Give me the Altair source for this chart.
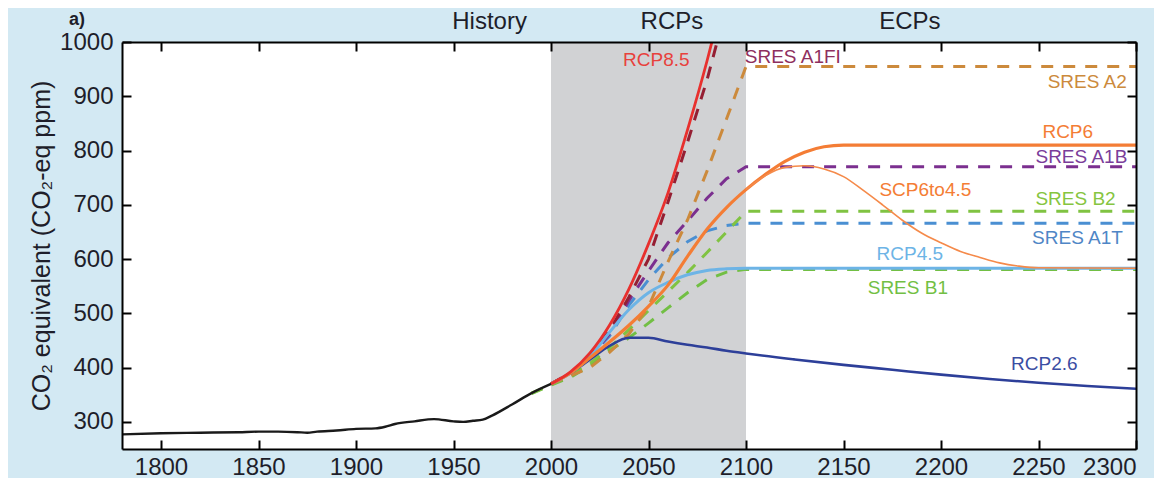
import altair as alt
import pandas as pd

FONT = "Liberation Sans"

# ---------------- data ----------------
hist_years = [1780, 1800, 1820, 1840, 1850, 1860, 1870, 1875, 1880, 1890, 1900, 1910, 1915,
              1920, 1930, 1940, 1950, 1955, 1960, 1965, 1970, 1980, 1990, 2000]
hist_ppm = [277, 279, 280, 281, 282, 282, 281, 280, 282, 284, 287, 288, 291,
            296, 301, 305, 301, 300, 302, 304, 312, 332, 353, 370]

rcp85_years = [2000, 2010, 2020, 2030, 2040, 2050, 2060, 2070, 2080, 2090]
rcp85_ppm = [370, 392, 427, 478, 545, 628, 722, 838, 965, 1110]

rcp6_years = [2000, 2010, 2020, 2030, 2040, 2050, 2060, 2070, 2080, 2090, 2100,
              2110, 2120, 2130, 2140, 2150, 2300]
rcp6_ppm = [370, 390, 418, 447, 478, 513, 552, 605, 655, 695, 728,
            756, 780, 797, 807, 810, 810]

scp_years = [2100, 2110, 2120, 2130, 2140, 2150, 2160, 2170, 2180, 2190, 2200,
             2210, 2220, 2230, 2240, 2250, 2300]
scp_ppm = [728, 754, 769, 772, 766, 752, 727, 700, 672, 648, 630,
           614, 603, 593, 587, 584, 583]

rcp45_years = [2000, 2010, 2020, 2030, 2040, 2050, 2060, 2070, 2080, 2090, 2100, 2300]
rcp45_ppm = [370, 390, 420, 465, 507, 538, 557, 571, 579, 582, 583, 583]

rcp26_years = [2000, 2010, 2020, 2030, 2040, 2050, 2060, 2070, 2080, 2090, 2100,
               2125, 2150, 2175, 2200, 2225, 2250, 2275, 2300]
rcp26_ppm = [370, 390, 415, 440, 455, 455, 448, 442, 437, 431, 426,
             415, 405, 396, 387, 379, 372, 366, 361]

a1fi_years = [2000, 2010, 2020, 2030, 2040, 2050, 2060, 2070, 2080, 2090]
a1fi_ppm = [370, 390, 420, 468, 530, 600, 705, 815, 930, 1065]

a2_years = [2000, 2010, 2020, 2030, 2040, 2050, 2060, 2070, 2080, 2090, 2100, 2300]
a2_ppm = [370, 385, 400, 428, 462, 512, 595, 672, 762, 858, 955, 955]

a1b_years = [2000, 2010, 2020, 2030, 2040, 2050, 2060, 2070, 2080, 2090, 2100, 2300]
a1b_ppm = [370, 390, 418, 462, 524, 578, 630, 670, 712, 748, 770, 770]

b2_years = [1990, 2000, 2010, 2020, 2030, 2040, 2050, 2060, 2070, 2080, 2090, 2100, 2300]
b2_ppm = [353, 368, 387, 408, 437, 470, 505, 540, 575, 612, 650, 688, 688]

a1t_years = [2000, 2010, 2020, 2030, 2040, 2050, 2060, 2070, 2080, 2090, 2100, 2300]
a1t_ppm = [370, 390, 420, 458, 515, 562, 602, 632, 652, 662, 666, 666]

b1_years = [1990, 2000, 2010, 2020, 2030, 2040, 2050, 2060, 2070, 2080, 2090, 2100, 2300]
b1_ppm = [352, 368, 382, 404, 431, 455, 482, 510, 538, 562, 576, 581, 581]

solid_names = ["RCP2.6", "RCP4.5", "RCP6", "SCP6to4.5", "RCP8.5"]
solid_colors = ["#2d3f99", "#6db4e6", "#f47d35", "#f58a4a", "#e8302e"]
solid_widths = [2.6, 3.0, 3.2, 1.6, 2.8]

dashed_names = ["SRES B1", "SRES A1T", "SRES B2", "SRES A1B", "SRES A2", "SRES A1FI"]
dashed_colors = ["#72bf44", "#4a8fd2", "#80c342", "#7b2f8f", "#cc8a3c", "#951f33"]

label_texts = ["RCP8.5", "SRES A1FI", "SRES A2", "RCP6", "SRES A1B", "SCP6to4.5",
               "SRES B2", "SRES A1T", "RCP4.5", "SRES B1", "RCP2.6"]
label_years = [2054, 2124, 2275, 2265, 2272, 2192, 2269, 2270, 2184, 2183, 2253]
label_ppm = [967, 972, 926, 834, 789, 727, 710, 638, 610, 547, 407]
label_colors = ["#e8413c", "#8e2f5e", "#cc8a3c", "#f47d35", "#7a3d9a", "#f47d35",
                "#86c540", "#4f86c6", "#6db4e6", "#72bf44", "#3b4ea3"]

header_texts = ["History", "RCPs", "ECPs"]
header_years = [1968.5, 2062, 2184]

panel_tag = ["a)"]

shade_start = [2000]
shade_end = [2100]

x_domain = [1780, 2300]
y_domain = [250, 1000]
x_ticks = [1800, 1850, 1900, 1950, 2000, 2050, 2100, 2150, 2200, 2250, 2300]
y_ticks = [300, 400, 500, 600, 700, 800, 900, 1000]

# ---------------- tables ----------------
series_data = {
    "RCP8.5": (rcp85_years, rcp85_ppm), "RCP6": (rcp6_years, rcp6_ppm),
    "SCP6to4.5": (scp_years, scp_ppm), "RCP4.5": (rcp45_years, rcp45_ppm),
    "RCP2.6": (rcp26_years, rcp26_ppm), "SRES A1FI": (a1fi_years, a1fi_ppm),
    "SRES A2": (a2_years, a2_ppm), "SRES A1B": (a1b_years, a1b_ppm),
    "SRES B2": (b2_years, b2_ppm), "SRES A1T": (a1t_years, a1t_ppm),
    "SRES B1": (b1_years, b1_ppm),
}

def long_df(names, colors, widths):
    rows = []
    for i, (n, c, w) in enumerate(zip(names, colors, widths)):
        ys, vs = series_data[n]
        for y, v in zip(ys, vs):
            rows.append({"series": n, "order": i, "year": y, "ppm": v, "color": c, "w": w})
    return pd.DataFrame(rows)

solid_df = long_df(solid_names, solid_colors, solid_widths)
dashed_df = long_df(dashed_names, dashed_colors, [3.0] * len(dashed_names))
hist_df = pd.DataFrame({"year": hist_years, "ppm": hist_ppm})
label_df = pd.DataFrame({"text": label_texts, "year": label_years, "ppm": label_ppm,
                         "color": label_colors})
header_df = pd.DataFrame({"text": header_texts, "year": header_years})
tag_df = pd.DataFrame({"text": panel_tag})
shade_df = pd.DataFrame({"x0": shade_start, "x1": shade_end,
                         "y0": [y_domain[0]], "y1": [y_domain[1]]})

# ---------------- chart ----------------
W, H = 1014, 407
xs = alt.Scale(domain=x_domain, nice=False, zero=False)
ys = alt.Scale(domain=y_domain, nice=False, zero=False)

common = dict(grid=False, domain=True, domainColor="black", domainWidth=2,
              ticks=True, tickColor="black", tickWidth=2, tickSize=alt.ExprRef("-9"),
              labelFont=FONT, labelFontSize=24, labelColor="#1e1e2a", zindex=3)

ax_bottom = alt.Axis(orient="bottom", values=x_ticks, format="d", labelPadding=15,
                     title=None, **common)
ax_left = alt.Axis(orient="left", values=y_ticks, format="d", labelPadding=18,
                   title="CO₂ equivalent (CO₂-eq ppm)", titleFont=FONT, titleFontSize=25,
                   titleFontWeight="normal", titleColor="#1e1e2a", titlePadding=5, **common)
ax_top = alt.Axis(orient="top", values=x_ticks, labels=False, title=None, **common)
ax_right = alt.Axis(orient="right", values=y_ticks, labels=False, title=None, **common)

shade = alt.Chart(shade_df).mark_rect(color="#d1d2d4").encode(
    x=alt.X("x0:Q", scale=xs, axis=ax_bottom), x2="x1",
    y=alt.Y("y0:Q", scale=ys, axis=ax_left), y2="y1")

mirror = alt.Chart(shade_df).mark_rect(opacity=0).encode(
    x=alt.X("x0:Q", scale=xs, axis=ax_top), x2="x1",
    y=alt.Y("y0:Q", scale=ys, axis=ax_right), y2="y1")

dashed = alt.Chart(dashed_df).mark_line(strokeDash=[12, 10], clip=True).encode(
    x=alt.X("year:Q", scale=xs, axis=None),
    y=alt.Y("ppm:Q", scale=ys, axis=None),
    detail="series:N",
    order="year:Q",
    color=alt.Color("color:N", scale=None),
    strokeWidth=alt.StrokeWidth("w:Q", scale=None))

solid = alt.Chart(solid_df).mark_line(clip=True, interpolate="monotone").encode(
    x=alt.X("year:Q", scale=xs, axis=None),
    y=alt.Y("ppm:Q", scale=ys, axis=None),
    detail="series:N",
    order="year:Q",
    color=alt.Color("color:N", scale=None),
    strokeWidth=alt.StrokeWidth("w:Q", scale=None))

hist = alt.Chart(hist_df).mark_line(color="#1a1a1a", strokeWidth=2.4, interpolate="monotone").encode(
    x=alt.X("year:Q", scale=xs, axis=None),
    y=alt.Y("ppm:Q", scale=ys, axis=None))

labels = alt.Chart(label_df).mark_text(font=FONT, fontSize=19, align="center",
                                       baseline="middle").encode(
    x=alt.X("year:Q", scale=xs, axis=None),
    y=alt.Y("ppm:Q", scale=ys, axis=None),
    text="text:N",
    color=alt.Color("color:N", scale=None))

headers = alt.Chart(header_df).mark_text(font=FONT, fontSize=24, align="center",
                                         baseline="middle", color="#1e1e2a").encode(
    x=alt.X("year:Q", scale=xs, axis=None),
    y=alt.value(-20),
    text="text:N")

tag = alt.Chart(tag_df).mark_text(font=FONT, fontSize=18, fontWeight="bold", align="center",
                                  baseline="middle", color="#1e1e2a").encode(
    x=alt.value(-45),
    y=alt.value(-22.5),
    text="text:N")

chart = alt.layer(shade, dashed, solid, hist, labels, headers, tag, mirror).resolve_axis(
    x="independent", y="independent"
).properties(
    width=W, height=H,
    padding={"left": 114, "top": 34, "right": 18, "bottom": 29},
    autosize=alt.AutoSizeParams(type="none"),
).configure(background="#d3e9f3").configure_view(fill="white", stroke=None)

chart.save("out.html", embed_options={"renderer": "svg", "actions": False})
